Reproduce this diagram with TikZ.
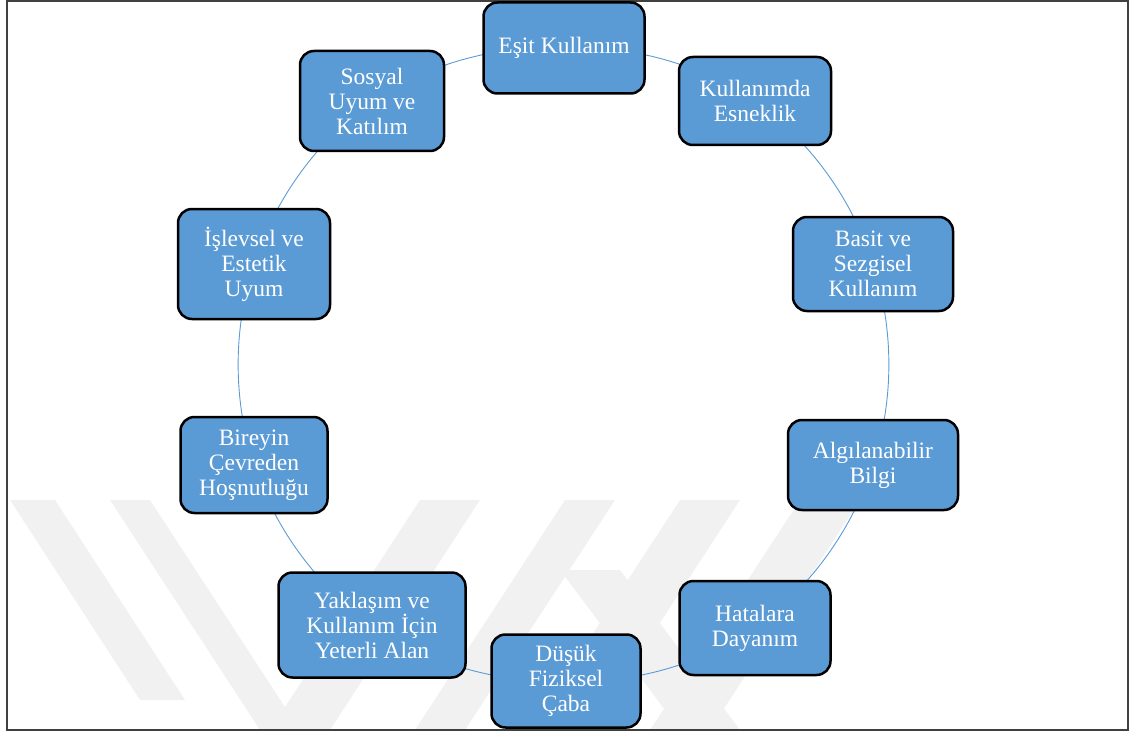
\documentclass[tikz,border=0pt]{standalone}
\usepackage{fontspec}
\setmainfont{Liberation Serif}
\usetikzlibrary{backgrounds}
\definecolor{boxblue}{HTML}{5B9BD5}
\definecolor{linkblue}{HTML}{5B9BD5}
\definecolor{wm}{HTML}{F1F1F1}
\definecolor{framegray}{HTML}{404040}
\begin{document}
\begin{tikzpicture}[x=1pt,y=-1pt,
  item/.style={draw=black, line width=2.5pt, fill=boxblue, rounded corners=14pt,
    text=white, align=center, font=\fontsize{23.5}{25}\selectfont, inner sep=2pt},
  link/.style={draw=linkblue, line width=0.9pt, bend left=18, looseness=0.873},
  wmark/.style={fill=wm, draw=none}]
\useasboundingbox (0,0) rectangle (1133,733);
% faint watermark
\begin{pgfonlayer}{background}
\fill[wmark] (10,500) -- (55,500) -- (185,700) -- (140,700) -- cycle;
\fill[wmark] (110,500) -- (150,500) -- (300,730) -- (260,730) -- cycle;
\fill[wmark] (420,500) -- (480,500) -- (330,730) -- (270,730) -- cycle;
\fill[wmark] (565,500) -- (615,500) -- (465,730) -- (415,730) -- cycle;
\fill[wmark] (680,500) -- (740,500) -- (590,730) -- (530,730) -- cycle;
\fill[wmark] (800,500) -- (860,500) -- (710,730) -- (650,730) -- cycle;
\fill[wmark] (560,570) -- (620,570) -- (740,730) -- (680,730) -- cycle;
\end{pgfonlayer}
% frame
\draw[framegray, line width=1.5pt] (7,1) rectangle (1128,730);
% nodes
\node[item, minimum width=161pt, minimum height=91pt] (esit) at (564,48) {Eşit Kullanım};
\node[item, minimum width=152pt, minimum height=88pt] (esnek) at (755,101) {Kullanımda\\Esneklik};
\node[item, minimum width=160pt, minimum height=94pt] (basit) at (873,264) {Basit ve\\Sezgisel\\Kullanım};
\node[item, minimum width=170pt, minimum height=90pt] (algi) at (873,465) {Algılanabilir\\Bilgi};
\node[item, minimum width=151pt, minimum height=94pt] (hata) at (755,628) {Hatalara\\Dayanım};
\node[item, minimum width=149pt, minimum height=93pt] (dusuk) at (566,681) {Düşük\\Fiziksel\\Çaba};
\node[item, minimum width=187pt, minimum height=105pt] (yakl) at (372,625) {Yaklaşım ve\\Kullanım İçin\\Yeterli Alan};
\node[item, minimum width=147pt, minimum height=96pt] (birey) at (254,465) {Bireyin\\Çevreden\\Hoşnutluğu};
\node[item, minimum width=152pt, minimum height=110pt] (islev) at (254,264) {İşlevsel ve\\Estetik\\Uyum};
\node[item, minimum width=144pt, minimum height=100pt] (sosyal) at (372,101) {Sosyal\\Uyum ve\\Katılım};
% connectors (behind the boxes, centre to centre along the ring)
\begin{pgfonlayer}{background}
\draw[link] (esit.center) to (esnek.center);
\draw[link] (esnek.center) to (basit.center);
\draw[link] (basit.center) to (algi.center);
\draw[link] (algi.center) to (hata.center);
\draw[link] (hata.center) to (dusuk.center);
\draw[link] (dusuk.center) to (yakl.center);
\draw[link] (yakl.center) to (birey.center);
\draw[link] (birey.center) to (islev.center);
\draw[link] (islev.center) to (sosyal.center);
\draw[link] (sosyal.center) to (esit.center);
\end{pgfonlayer}
\end{tikzpicture}
\end{document}
